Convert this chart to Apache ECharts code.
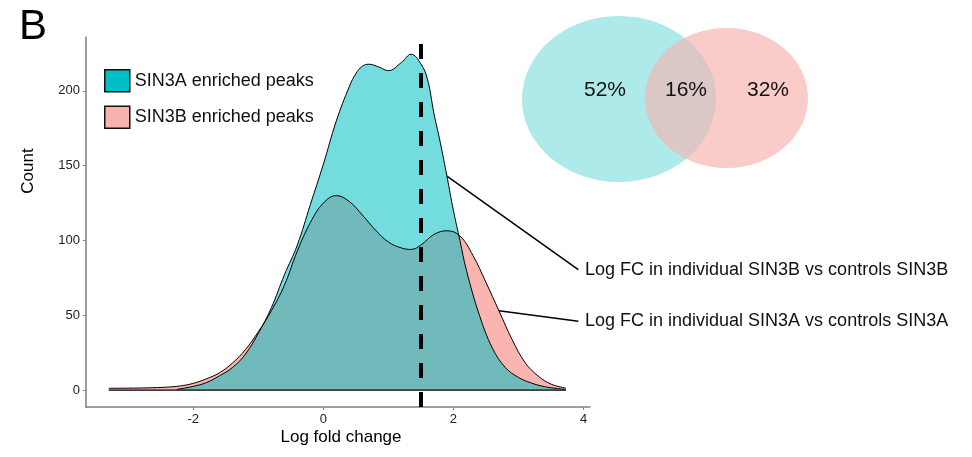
<!DOCTYPE html>
<html>
<head>
<meta charset="utf-8">
<script src="https://cdn.jsdelivr.net/npm/echarts@6/dist/echarts.min.js"></script>
<style>
  html, body { margin: 0; padding: 0; background: #fff; }
  #chart { width: 972px; height: 457px; }
</style>
</head>
<body>
<div id="chart"></div>
<script>
// density curves
var sin3aX = [-2.25, -2.0, -1.8, -1.6, -1.4, -1.2, -1.0, -0.8, -0.6, -0.4, -0.2, 0, 0.2, 0.4, 0.5, 0.6, 0.7, 0.85, 1.0, 1.2, 1.35, 1.5, 1.6, 1.7, 1.8, 1.9, 2.0, 2.1, 2.2, 2.4, 2.6, 2.8, 3.0, 3.2, 3.4, 3.6, 3.73];
var sin3aY = [0.5, 2.5, 5, 9.5, 15, 24, 38, 55, 77, 97, 124, 151, 180, 203, 211.5, 216.5, 217.8, 216, 213.5, 219, 224.5, 218, 208, 185, 165, 143, 120, 100, 80, 50, 28, 15, 8.5, 4.7, 2.3, 1, 0.5];

var sin3bX = [-3.3, -3.0, -2.7, -2.4, -2.2, -2.0, -1.8, -1.6, -1.4, -1.2, -1.0, -0.8, -0.6, -0.4, -0.2, 0, 0.2, 0.4, 0.6, 0.8, 1.0, 1.2, 1.35, 1.5, 1.7, 1.9, 2.1, 2.3, 2.5, 2.7, 2.9, 3.1, 3.3, 3.5, 3.73];
var sin3bY = [1.2, 1.3, 1.5, 2, 2.8, 4.5, 7.5, 11.5, 18, 27, 39, 53, 70, 93, 112, 125, 130, 126, 117, 107, 99, 95, 94, 97, 104, 106.5, 103, 90, 72, 53, 34, 18.5, 9.5, 4, 1.3];

var seriesNames = ['SIN3A enriched peaks', 'SIN3B enriched peaks'];
var xTicks = [-2, 0, 2, 4];
var yTicks = [0, 50, 100, 150, 200];
var cutoff = 1.5;

// venn percentages
var vennLabels = ['52%', '16%', '32%'];

var annotTexts = ['Log FC in individual SIN3B vs controls SIN3B', 'Log FC in individual SIN3A vs controls SIN3A'];
var annotAnchorX = [1.9, 2.7]; // where the pointer meets SIN3A / SIN3B curve

var FONT = '"Liberation Sans", Arial, sans-serif';
var chart = echarts.init(document.getElementById('chart'));

function pairs(xs, ys) {
    return xs.map(function (x, i) { return [x, ys[i]]; });
}
function lookup(xs, ys, x) {
    return [x, ys[xs.indexOf(x)]];
}

// ellipse overlap, for the venn middle
function inEllipse(p, e) {
    var dx = (p[0] - e.cx) / e.rx, dy = (p[1] - e.cy) / e.ry;
    return dx * dx + dy * dy <= 1;
}
function lens(a, b) {
    var pts = [];
    [[a, b], [b, a]].forEach(function (pr) {
        for (var i = 0; i < 720; i++) {
            var t = i / 720 * Math.PI * 2;
            var p = [pr[0].cx + pr[0].rx * Math.cos(t), pr[0].cy + pr[0].ry * Math.sin(t)];
            if (inEllipse(p, pr[1])) pts.push(p);
        }
    });
    var mx = 0, my = 0;
    pts.forEach(function (p) { mx += p[0]; my += p[1]; });
    mx /= pts.length; my /= pts.length;
    pts.sort(function (p, q) {
        return Math.atan2(p[1] - my, p[0] - mx) - Math.atan2(q[1] - my, q[0] - mx);
    });
    return pts;
}
var ellA = { cx: 619, cy: 99, rx: 97, ry: 83 };
var ellB = { cx: 726.5, cy: 98, rx: 81.5, ry: 70 };

function ellipse(e, fill) {
    return {
        type: 'circle', x: e.cx, y: e.cy, scaleY: e.ry / e.rx,
        shape: { cx: 0, cy: 0, r: e.rx }, style: { fill: fill }, silent: true
    };
}

var a1 = lookup(sin3aX, sin3aY, annotAnchorX[0]);
var a2 = lookup(sin3bX, sin3bY, annotAnchorX[1]);

var option = {
    animation: false,
    grid: { left: 86, right: 382, top: 37, bottom: 50 },
    legend: {
        orient: 'vertical',
        left: 104, top: 69, padding: 0,
        itemWidth: 25, itemHeight: 22, itemGap: 13,
        textStyle: { fontFamily: FONT, fontSize: 18, color: '#111' },
        data: [
            { name: seriesNames[0], icon: 'rect', itemStyle: { color: '#00BFC4', borderColor: '#111', borderWidth: 1.5 } },
            { name: seriesNames[1], icon: 'rect', itemStyle: { color: '#F9B3AE', borderColor: '#111', borderWidth: 1.5 } }
        ]
    },
    xAxis: {
        type: 'value', min: -3.65, max: 4.1,
        axisLine: { onZero: false, lineStyle: { color: '#7f7f7f', width: 1.5 } },
        axisTick: { length: 3, lineStyle: { color: '#7f7f7f' }, customValues: xTicks },
        axisLabel: { customValues: xTicks, margin: 6, fontFamily: FONT, fontSize: 13, color: '#222' },
        splitLine: { show: false }
    },
    yAxis: {
        type: 'value', min: -11.3, max: 236,
        axisLine: { show: true, onZero: false, lineStyle: { color: '#7f7f7f', width: 1.5 } },
        axisTick: { show: true, length: 3, lineStyle: { color: '#7f7f7f' }, customValues: yTicks },
        axisLabel: { customValues: yTicks, margin: 6, fontFamily: FONT, fontSize: 13, color: '#222' },
        splitLine: { show: false }
    },
    series: [
        {
            name: seriesNames[1], type: 'line', smooth: 0.4, symbol: 'none',
            data: pairs(sin3bX, sin3bY),
            lineStyle: { color: '#000', width: 1 },
            itemStyle: { color: '#F9B3AE' },
            areaStyle: { color: '#F8766D', opacity: 0.55, origin: 0 }
        },
        {
            name: seriesNames[0], type: 'line', smooth: 0.4, symbol: 'none',
            data: pairs(sin3aX, sin3aY),
            lineStyle: { color: '#000', width: 1 },
            itemStyle: { color: '#00BFC4' },
            areaStyle: { color: '#00BFC4', opacity: 0.55, origin: 0 }
        },
        {
            name: 'baseline', type: 'line', symbol: 'none', z: 5,
            data: [[sin3bX[0], 0], [sin3bX[sin3bX.length - 1], 0]],
            lineStyle: { color: '#000', width: 1.3 },
            markLine: {
                silent: true, symbol: 'none', label: { show: false },
                data: [
                    { xAxis: cutoff, lineStyle: { color: '#000', width: 4, type: [15, 14] } },
                    [{ coord: a1, lineStyle: { color: '#000', width: 1.5, type: 'solid' } }, { coord: [3.92, 80.5] }],
                    [{ coord: a2, lineStyle: { color: '#000', width: 1.5, type: 'solid' } }, { coord: [3.92, 46] }]
                ]
            }
        }
    ],
    graphic: [
        { type: 'text', x: 19, y: 27, style: { text: 'B', fontFamily: FONT, fontSize: 42, fill: '#000', verticalAlign: 'middle' } },
        { type: 'text', x: 28, y: 171, rotation: Math.PI / 2, style: { text: 'Count', fontFamily: FONT, fontSize: 17, fill: '#000', align: 'center', verticalAlign: 'middle' } },
        { type: 'text', x: 341, y: 437, style: { text: 'Log fold change', fontFamily: FONT, fontSize: 17, fill: '#000', align: 'center', verticalAlign: 'middle' } },
        ellipse(ellA, '#AEEAEA'),
        ellipse(ellB, '#F9CBC9'),
        { type: 'polygon', shape: { points: lens(ellA, ellB) }, style: { fill: '#DAC7C6' }, silent: true },
        { type: 'text', x: 605, y: 90, style: { text: vennLabels[0], fontFamily: FONT, fontSize: 21, fill: '#111', align: 'center', verticalAlign: 'middle' } },
        { type: 'text', x: 686, y: 90, style: { text: vennLabels[1], fontFamily: FONT, fontSize: 21, fill: '#111', align: 'center', verticalAlign: 'middle' } },
        { type: 'text', x: 768, y: 90, style: { text: vennLabels[2], fontFamily: FONT, fontSize: 21, fill: '#111', align: 'center', verticalAlign: 'middle' } },
        { type: 'text', x: 585, y: 270, style: { text: annotTexts[0], fontFamily: FONT, fontSize: 18, fill: '#111', verticalAlign: 'middle' } },
        { type: 'text', x: 585, y: 321, style: { text: annotTexts[1], fontFamily: FONT, fontSize: 18, fill: '#111', verticalAlign: 'middle' } }
    ]
};

chart.setOption(option);
</script>
</body>
</html>
